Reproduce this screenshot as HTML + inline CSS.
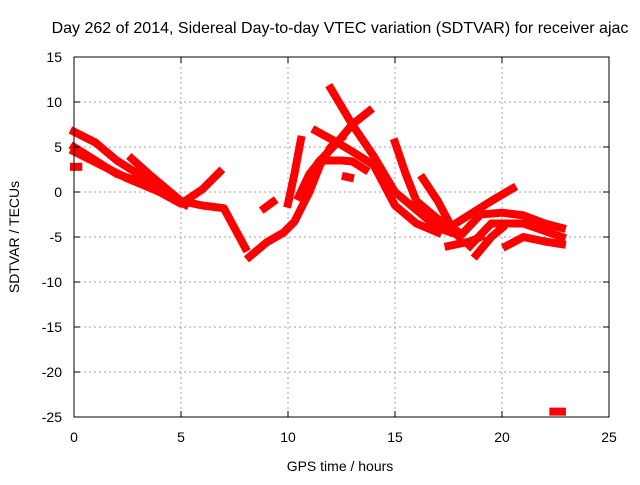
<!DOCTYPE html>
<html><head><meta charset="utf-8"><style>
body{margin:0;background:#fff}
svg{font-family:"Liberation Sans",sans-serif}
</style></head><body>
<svg id="chart" width="640" height="480">
<rect x="0" y="0" width="640" height="480" fill="#fff"/>
<text x="340" y="33" text-anchor="middle" font-size="16">Day 262 of 2014, Sidereal Day-to-day VTEC variation (SDTVAR) for receiver ajac</text>
<g id="grid"></g><g id="series"></g><g id="axes"></g>
<text x="340" y="471" text-anchor="middle" font-size="14">GPS time / hours</text>
<text transform="translate(19,237) rotate(-90)" text-anchor="middle" font-size="14">SDTVAR / TECUs</text>
</svg>
<script>
const xTicks=[0,5,10,15,20,25];
const yTicks=[15,10,5,0,-5,-10,-15,-20,-25];
const trackA=[[0,6.7],[1,5.5],[2,3.5],[3,2],[4,0.5],[5,-1],[6,-1.5],[7,-1.8],[7.5,-4],[8,-6.2]];
const trackB=[[0,5],[1,3.5],[2,2],[3,1.2],[4,0],[5,-1.3],[6,0.3],[6.8,2.2]];
const trackC=[[0,4.5],[1.5,2.7],[2.5,1.5],[3.5,0.5],[4.5,-0.5],[5.2,-1.4]];
const trackD=[[2.7,3.7],[3.5,2],[4,1],[4.5,0],[5,-1]];
const trackE=[[8.2,-7.2],[9,-5.6],[9.8,-4.5],[10.3,-3.3],[11,0],[11.5,3],[12,5],[12.5,6]];
const trackF=[[10,-1.3],[10.3,2],[10.6,5.8]];
const trackG=[[10.5,-0.5],[11,2],[11.5,3.5],[12.5,3.5],[13,3.4],[13.6,2.5]];
const trackH=[[11.3,6.8],[12.3,5.5],[13,4.5],[14,3],[15,-1.5],[16,-3.5],[17,-4.5]];
const trackI=[[11.5,3.5],[12.3,5.5],[13,7.5],[13.8,9]];
const trackJ=[[12,11.5],[13,7.5],[14,4],[15,0],[16,-2],[17,-4],[18,-4.8]];
const trackK=[[15,5.5],[15.5,2],[16,-1],[17,-3],[18,-4.5]];
const trackL=[[16.3,1.5],[17,-1],[17.6,-3.7]];
const trackM=[[17.5,-4],[18.5,-2.5],[19.5,-1],[20.5,0.4]];
const trackN=[[18,-5],[19,-2.5],[20,-2.3],[21,-2.6],[22,-3.5],[22.8,-4]];
const trackO=[[18.5,-6],[19.5,-3.5],[21,-3.5],[22.8,-5]];
const trackP=[[20.2,-6],[21,-5],[22,-5.5],[22.8,-5.8]];
const trackQ=[[17.5,-6],[18.5,-5.5],[19,-5]];
const trackR=[[18.8,-7],[19.5,-5],[20,-4]];
const trackS=[[22.4,-24.4],[22.8,-24.4]];
const trackT=[[0,2.8],[0.2,2.8]];
const trackU=[[8.9,-1.8],[9.3,-1.1]];
const trackV=[[12.7,1.7],[12.9,1.6]];
const tracks=[trackA,trackB,trackC,trackD,trackE,trackF,trackG,trackH,trackI,trackJ,trackK,trackL,trackM,trackN,trackO,trackP,trackQ,trackR,trackS,trackT,trackU,trackV];
const X0=74,X1=609,Y0=57,Y1=417;
const xs=h=>X0+(h-0)/(25-0)*(X1-X0);
const ys=v=>Y0+(15-v)/(15-(-25))*(Y1-Y0);
const NS="http://www.w3.org/2000/svg";
const grid=document.getElementById('grid'),axes=document.getElementById('axes'),ser=document.getElementById('series');
function mk(tag,at,parent){const e=document.createElementNS(NS,tag);for(const k in at)e.setAttribute(k,at[k]);parent.appendChild(e);return e;}
xTicks.forEach(t=>{
  if(t>0&&t<25){const g=mk('line',{x1:xs(t),x2:xs(t),y1:Y0,y2:Y1,stroke:'#a0a0a0','stroke-dasharray':'2,3'},grid);
  
  }
  const l=mk('text',{x:xs(t),y:Y1+25,'text-anchor':'middle','font-size':14},axes);l.textContent=t;
  
  
  mk('line',{x1:xs(t),x2:xs(t),y1:Y1,y2:Y1-6,stroke:'#000'},axes);
  mk('line',{x1:xs(t),x2:xs(t),y1:Y0,y2:Y0+6,stroke:'#000'},axes);
});
yTicks.forEach(t=>{
  if(t<15&&t>-25){const g=mk('line',{x1:X0,x2:X1,y1:ys(t),y2:ys(t),stroke:'#a0a0a0','stroke-dasharray':'2,3'},grid);
  
  }
  const l=mk('text',{x:X0-12,y:ys(t)+5,'text-anchor':'end','font-size':14},axes);l.textContent=t;
  
  
  mk('line',{x1:X0,x2:X0+6,y1:ys(t),y2:ys(t),stroke:'#000'},axes);
  mk('line',{x1:X1,x2:X1-6,y1:ys(t),y2:ys(t),stroke:'#000'},axes);
});
const fr=mk('rect',{x:X0,y:Y0,width:X1-X0,height:Y1-Y0,fill:'none',stroke:'#000'},axes);


tracks.forEach(tr=>{
  const p=mk('polyline',{points:tr.map(d=>xs(d[0])+','+ys(d[1])).join(' '),fill:'none',stroke:'#f00','stroke-width':8,'stroke-linejoin':'round','stroke-linecap':'square'},ser);
  
  
});
</script>
</body></html>
